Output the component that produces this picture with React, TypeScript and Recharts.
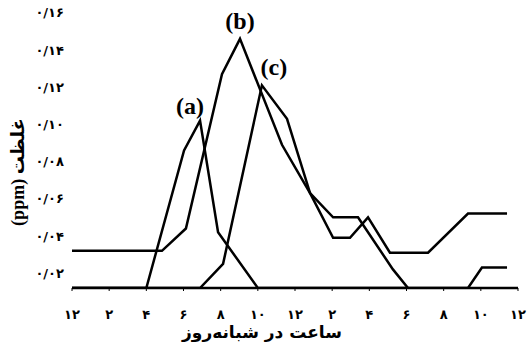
import { LineChart, Line, XAxis, YAxis, ReferenceDot, Label } from 'recharts';

// hours after midnight and concentrations (ppm)
const hoursA = [0, 4, 6.03, 6.89, 7.86, 10, 21.31, 22.06, 23.41];
const valuesA = [0.012, 0.012, 0.086, 0.102, 0.042, 0.012, 0.012, 0.023, 0.023];

const hoursB = [0, 4.84, 6.13, 8.07, 9.04, 11.3, 12.81, 14.05, 14.96, 15.93, 17.11, 19.16, 21.31, 23.41];
const valuesB = [0.032, 0.032, 0.044, 0.127, 0.146, 0.089, 0.063, 0.039, 0.039, 0.05, 0.031, 0.031, 0.052, 0.052];

const hoursC = [0, 6.89, 8.13, 10.22, 11.57, 12.81, 14.05, 15.39, 17.27, 18.08];
const valuesC = [0.012, 0.012, 0.025, 0.121, 0.103, 0.063, 0.05, 0.05, 0.022, 0.012];

const hourTicks = [0, 2, 4, 6, 8, 10, 12, 14, 16, 18, 20, 22, 24];
const hourLabels = ['۱۲', '۲', '۴', '۶', '۸', '۱۰', '۱۲', '۲', '۴', '۶', '۸', '۱۰', '۱۲'];

const valueTicks = [0.02, 0.04, 0.06, 0.08, 0.1, 0.12, 0.14, 0.16];
const valueLabels = ['۰/۰۲', '۰/۰۴', '۰/۰۶', '۰/۰۸', '۰/۱۰', '۰/۱۲', '۰/۱۴', '۰/۱۶'];

const xTitle = 'ساعت در شبانه‌روز';
const yTitle = 'غلظت (ppm)';

const toPoints = (hours: number[], values: number[]) =>
    hours.map((h, i) => ({ h, v: values[i] }));

const seriesA = toPoints(hoursA, valuesA);
const seriesB = toPoints(hoursB, valuesB);
const seriesC = toPoints(hoursC, valuesC);

const peakOf = (s: { h: number; v: number }[]) =>
    s.reduce((m, p) => (p.v > m.v ? p : m), s[0]);

const tickFont = { fill: '#000', fontSize: 13, fontWeight: 'bold', fontFamily: 'DejaVu Sans' };

const tag = (text: string, dx: number, dy: number) => (props: any) => (
    <text
        x={props.cx + dx}
        y={props.cy + dy}
        textAnchor="middle"
        fontFamily="Liberation Serif"
        fontWeight="bold"
        fontSize={24}
        fill="#000"
    >
        {text}
    </text>
);

export default function App() {
    const pa = peakOf(seriesA);
    const pb = peakOf(seriesB);
    const pc = peakOf(seriesC);

    return (
        <div style={{ position: 'absolute', left: 0, top: 0, background: '#fff' }}>
            <LineChart width={531} height={350} margin={{ top: 5, right: 13, bottom: 0, left: 0 }}>
                <XAxis
                    dataKey="h"
                    type="number"
                    domain={[0, 24]}
                    ticks={hourTicks}
                    tickFormatter={(_v, i) => hourLabels[i]}
                    axisLine={{ stroke: '#000', strokeWidth: 2.5 }}
                    tickLine={{ stroke: '#000' }}
                    tickSize={3}
                    tickMargin={19}
                    tick={tickFont}
                    height={62}
                    allowDataOverflow
                >
                    <Label
                        content={() => (
                            <text
                                x={262}
                                y={338}
                                textAnchor="middle"
                                fontFamily="DejaVu Sans"
                                fontWeight="bold"
                                fontSize={17}
                                fill="#000"
                            >
                                {xTitle}
                            </text>
                        )}
                    />
                </XAxis>
                <YAxis
                    type="number"
                    domain={[0.012, 0.1642]}
                    ticks={valueTicks}
                    tickFormatter={(_v, i) => valueLabels[i]}
                    axisLine={false}
                    tickLine={false}
                    tick={tickFont}
                    width={72}
                    allowDataOverflow
                >
                    <Label
                        content={() => (
                            <text
                                x={18}
                                y={172}
                                transform="rotate(-90, 18, 172)"
                                textAnchor="middle"
                                dominantBaseline="central"
                                direction="rtl"
                                fontFamily="Liberation Serif, DejaVu Sans"
                                fontWeight="bold"
                                fontSize={18}
                                fill="#000"
                            >
                                {yTitle}
                            </text>
                        )}
                    />
                </YAxis>

                <Line data={seriesA} dataKey="v" type="linear" stroke="#000" strokeWidth={2.5} dot={false} isAnimationActive={false} />
                <Line data={seriesB} dataKey="v" type="linear" stroke="#000" strokeWidth={2.5} dot={false} isAnimationActive={false} />
                <Line data={seriesC} dataKey="v" type="linear" stroke="#000" strokeWidth={2.5} dot={false} isAnimationActive={false} />

                <ReferenceDot x={pa.h} y={pa.v} r={0} shape={tag('(a)', -10, -7)} />
                <ReferenceDot x={pb.h} y={pb.v} r={0} shape={tag('(b)', 0, -10)} />
                <ReferenceDot x={pc.h} y={pc.v} r={0} shape={tag('(c)', 12, -10)} />
            </LineChart>
        </div>
    );
}
